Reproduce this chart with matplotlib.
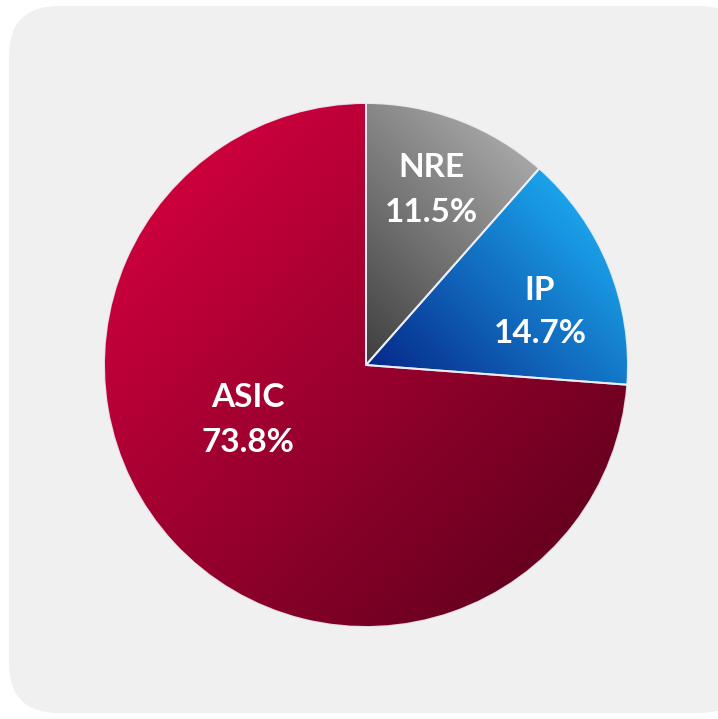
import numpy as np
import matplotlib
matplotlib.use('Agg')
import matplotlib.pyplot as plt
from matplotlib.patches import Wedge, FancyBboxPatch
from matplotlib.colors import LinearSegmentedColormap

# DATA
labels = ['NRE', 'IP', 'ASIC']
shares = [11.5, 14.7, 73.8]
# gradient colours (light end, dark end) per slice
light_colors = ['#a6a6a6', '#1ba3ea', '#cc003c']
dark_colors = ['#3e3e3e', '#06288a', '#68001f']

W, H = 718, 719
cx, cy, r = 366, H - 365, 262

# gradient direction (points from dark to light), in data coords (y up)
grad_dirs = [(1, 1), (1, 1), (-1, 1)]
# label anchor positions in pixels (x, name baseline, value baseline)
label_pos = [(431, 177, 222), (540, 300, 343), (248, 407, 452)]

fig = plt.figure(figsize=(W / 100, H / 100), dpi=100)
ax = fig.add_axes([0, 0, 1, 1])
ax.set_xlim(0, W)
ax.set_ylim(0, H)
ax.set_aspect('auto')
ax.axis('off')

# rounded panel
panel = FancyBboxPatch((9 + 50, 6 + 50), 740 - 100, H - 6 - 6 - 100,
                       boxstyle='round,pad=50', fc='#f0f0f0', ec='none', zorder=0)
ax.add_patch(panel)

# slice angles: start at 12 o'clock, go clockwise
angles = []
start = 90.0
for s in shares:
    sweep = s / 100 * 360
    angles.append((start - sweep, start))
    start -= sweep

xs = np.linspace(cx - r, cx + r, 600)
ys = np.linspace(cy - r, cy + r, 600)
X, Y = np.meshgrid(xs, ys)

for (t1, t2), c_light, c_dark, d in zip(angles, light_colors, dark_colors, grad_dirs):
    d = np.array(d, float) / np.hypot(*d)
    # extent of slice along direction
    th = np.radians(np.linspace(t1, t2, 100))
    px = np.concatenate([[cx], cx + r * np.cos(th)])
    py = np.concatenate([[cy], cy + r * np.sin(th)])
    proj = px * d[0] + py * d[1]
    lo, hi = proj.min(), proj.max()
    T = np.clip((X * d[0] + Y * d[1] - lo) / (hi - lo), 0, 1)
    cmap = LinearSegmentedColormap.from_list('g', [c_dark, c_light])
    im = ax.imshow(T, cmap=cmap, extent=(cx - r, cx + r, cy - r, cy + r),
                   origin='lower', interpolation='bilinear', zorder=1, vmin=0, vmax=1)
    w = Wedge((cx, cy), r, t1, t2, fc='none', ec='none')
    ax.add_patch(w)
    im.set_clip_path(w)
    ax.add_patch(Wedge((cx, cy), r, t1, t2, fc='none', ec='#eef0f6',
                       lw=1.4, alpha=0.9, zorder=2))

ax.set_xlim(0, W)
ax.set_ylim(0, H)

for lab, s, (lx, y1, y2) in zip(labels, shares, label_pos):
    kw = dict(color='white', fontsize=24, fontweight='bold', family='Lato',
              ha='center', va='baseline', zorder=3)
    ax.text(lx, H - y1, lab, **kw)
    ax.text(lx, H - y2, f'{s:.1f}%', **kw)

fig.savefig('out.png', dpi=100, facecolor='white')
